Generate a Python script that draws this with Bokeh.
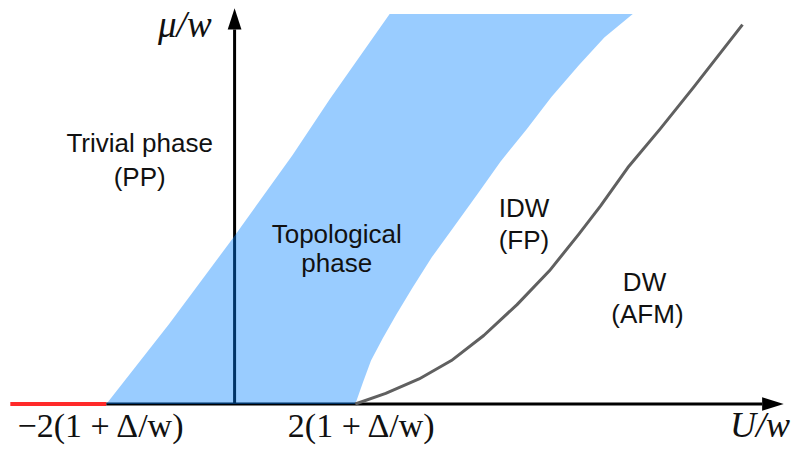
from bokeh.plotting import figure
from bokeh.models import Range1d
from bokeh.core.properties import value
from bokeh.embed import file_html
from bokeh.resources import INLINE

# ---- data (U/w, mu/w), in units of (1 + Delta/w) ----
# topological phase: left boundary (bottom -> top)
left_U = [-2.0, -0.992, 0.047, 0.992, 1.591, 2.551]
left_mu = [0.0, 1.307, 2.724, 4.063, 4.976, 6.362]
# topological phase: right boundary (bottom -> top)
right_U = [2.000, 2.126, 2.252, 2.441, 2.661, 2.913, 3.228, 3.543, 3.969, 4.331, 4.756, 5.150, 5.591, 6.000, 6.457]
right_mu = [0.0, 0.362, 0.709, 1.071, 1.465, 1.890, 2.394, 2.835, 3.433, 3.953, 4.488, 5.008, 5.528, 5.980, 6.362]
# IDW / DW boundary
dw_U = [2.000, 2.488, 3.024, 3.543, 4.063, 4.598, 5.118, 5.591, 5.937, 6.378, 6.898, 7.433, 8.220]
dw_mu = [0.0, 0.173, 0.409, 0.709, 1.118, 1.622, 2.173, 2.772, 3.228, 3.858, 4.488, 5.165, 6.189]
# axes extents
u_min, u_max = -3.543, 8.882
mu_max = 6.457
u_axis_pos = 0.06
tick_vals = [-2.0, 2.0]
tick_labels = ["\u22122(1 + \u0394/w)", "2(1 + \u0394/w)"]

phase_labels = ["Trivial phase", "(PP)", "Topological", "phase", "IDW", "(FP)", "DW", "(AFM)"]
phase_x = [-1.465, -1.465, 1.701, 1.701, 4.709, 4.709, 6.646, 6.693]
phase_y = [4.252, 3.701, 2.772, 2.299, 3.197, 2.677, 1.984, 1.465]

# ---- figure ----
W, H = 793, 446
unit = 63.5  # reference pixels per data unit
p = figure(width=W, height=H, output_backend="svg", toolbar_location=None,
           x_range=Range1d(-235.0 / unit, (809 - 235.0) / unit),
           y_range=Range1d((418 - 462.0) / unit, 418.0 / unit),
           min_border=0, outline_line_color=None, background_fill_color="white")
p.axis.visible = False
p.grid.visible = False

head_len = 22.0 / unit
head_hw = 7.0 / unit

# horizontal axis
p.line([u_min, tick_vals[0]], [0, 0], line_color="#ff2a2a", line_width=4)
p.line([tick_vals[0], u_max - head_len], [0, 0], line_color="black", line_width=3)
p.patch([u_max, u_max - head_len, u_max - head_len], [0, head_hw, -head_hw], color="black", line_width=0)
# vertical axis
p.line([u_axis_pos, u_axis_pos], [0, mu_max - head_len], line_color="black", line_width=3)
p.patch([u_axis_pos, u_axis_pos - head_hw, u_axis_pos + head_hw],
        [mu_max, mu_max - head_len, mu_max - head_len], color="black", line_width=0)

# topological region
poly_x = left_U + right_U[::-1]
poly_y = left_mu + right_mu[::-1]
p.patch(poly_x, poly_y, fill_color="#0080ff", fill_alpha=0.4, line_color=None)

# IDW/DW boundary
p.line(dw_U, dw_mu, line_color="#606060", line_width=3, line_join="round")

# phase labels
p.text(x=phase_x, y=phase_y, text=phase_labels, text_font=value("Liberation Sans"),
       text_font_size="26px", text_align="center", text_baseline="middle", text_color="#111111")

# tick labels
p.text(x=[tick_vals[0] - 0.079, tick_vals[1] + 0.11], y=[-0.35, -0.35], text=tick_labels,
       text_font=value("Liberation Serif"), text_font_size="34px",
       text_align="center", text_baseline="middle", text_color="#111111")
# axis labels
p.text(x=[u_axis_pos - 0.80], y=[6.19], text=["\u03bc/w"], text_font=value("Liberation Serif"),
       text_font_style="italic", text_font_size="37px", text_align="center", text_baseline="middle",
       text_color="#111111")
p.text(x=[8.50], y=[-0.35], text=["U/w"], text_font=value("Liberation Serif"),
       text_font_style="italic", text_font_size="36px", text_align="center", text_baseline="middle",
       text_color="#111111")

open("out.html", "w").write(file_html(p, INLINE))
